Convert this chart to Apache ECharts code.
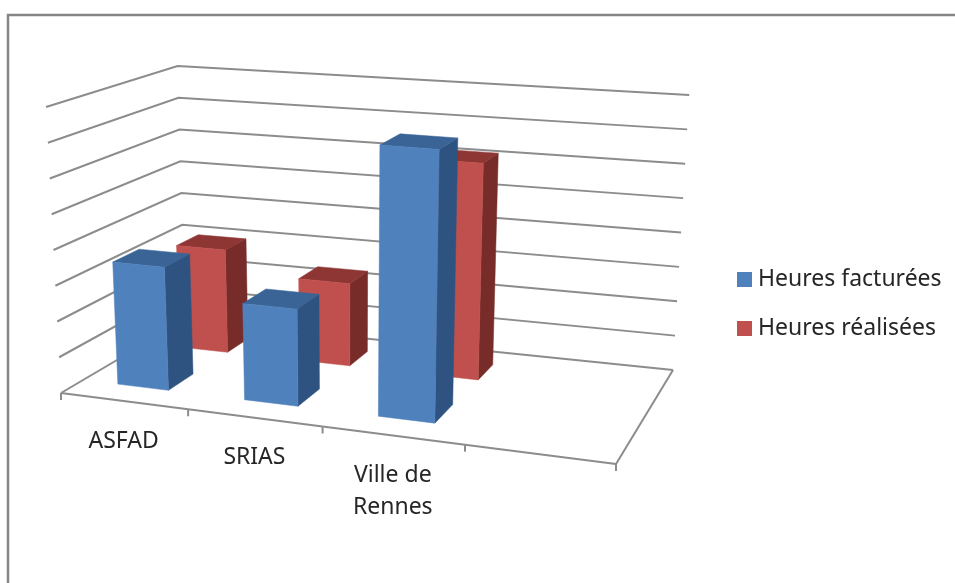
<!DOCTYPE html>
<html><head><meta charset="utf-8">
<style>html,body{margin:0;padding:0;background:#fff}#c{width:955px;height:583px}</style>
<script src="https://cdn.jsdelivr.net/npm/echarts@6/dist/echarts.min.js"></script>
</head><body><div id="c"></div>
<script>
const categories = ['ASFAD', 'SRIAS', 'Ville de\nRennes'];
const seriesNames = ['Heures facturées', 'Heures réalisées'];
const heuresFacturees = [3.46, 2.67, 7.36];
const heuresRealisees = [3.05, 2.4, 6.2];
const gridTicks = [0, 1, 2, 3, 4, 5, 6, 7, 8];
const catTicks = [0, 1, 2, 3, 4];

const W = 955, H = 583;
const FONT = '"Noto Sans", sans-serif';
// perspective box: floor corners FL, FR, BR, BL; heights at full scale; vertical vanishing point
const floorQ = [[61,393],[616,464],[673,370],[185,320]];
const VP = [348,5883], H0 = 286, HG = -0.086, HH = 0.126, WARP = 0.038;
function homography(q){
  const [p0,p1,p2,p3]=q;
  const dx1=p1[0]-p2[0],dx2=p3[0]-p2[0],sx=p0[0]-p1[0]+p2[0]-p3[0];
  const dy1=p1[1]-p2[1],dy2=p3[1]-p2[1],sy=p0[1]-p1[1]+p2[1]-p3[1];
  const den=dx1*dy2-dx2*dy1;
  const g=(sx*dy2-dx2*sy)/den,h=(dx1*sy-sx*dy1)/den;
  const a=p1[0]-p0[0]+g*p1[0],b=p3[0]-p0[0]+h*p3[0],d=p1[1]-p0[1]+g*p1[1],e=p3[1]-p0[1]+h*p3[1];
  return (u,v)=>{const k=g*u+h*v+1;return [(a*u+b*v+p0[0])/k,(d*u+e*v+p0[1])/k];};
}
const hF=homography(floorQ);
// x axis: 0..4 categories; y axis: 0..8 value; the grid fills the canvas, so the
// scale position is turned into box coordinates and then projected.
function project(api,x,depth,val){
  const c=api.coord([x,val]);
  let u=c[0]/W; const t=1-c[1]/H;
  u=u+WARP*u*(1-u);
  const f=hF(u,depth);
  const hgt=H0/(1+HG*u+HH*depth)*t;
  return [f[0]+(f[0]-VP[0])/(VP[1]-f[1])*hgt, f[1]-hgt];
}
const LINE={stroke:'#8c8c8c',lineWidth:2,fill:null};
function renderGrid(p,api){
  const w=api.value(0);
  return {type:'polyline',silent:true,shape:{points:[project(api,0,0,w),project(api,0,1,w),project(api,4,1,w)]},style:LINE};
}
function renderFloor(p,api){
  const i=api.value(0);
  const a=project(api,i,0,0);
  const kids=[{type:'line',shape:{x1:a[0],y1:a[1],x2:a[0],y2:a[1]+7},style:LINE}];
  if(i<4){const b=project(api,i+1,0,0);kids.push({type:'line',shape:{x1:a[0],y1:a[1],x2:b[0],y2:b[1]},style:LINE});}
  else{const b=project(api,4,1,0);kids.push({type:'line',shape:{x1:a[0],y1:a[1],x2:b[0],y2:b[1]},style:LINE});}
  return {type:'group',silent:true,children:kids};
}
function renderLabel(p,api){
  const i=api.value(0);
  const a=project(api,i+0.5,0,0);
  return {type:'text',silent:true,style:{text:categories[i],x:a[0],y:a[1]+24,align:'center',verticalAlign:'top',font:'23px '+FONT,fill:'#262626',lineHeight:32}};
}
const HALF=0.203;
function barRenderer(v0,v1,center,cols){
  return function(p,api){
    const i=api.value(0), val=api.value(1);
    const u0=i+center-HALF, u1=i+center+HALF;
    const P=(u,d,w)=>project(api,u,d,w);
    const poly=(pts,c)=>({type:'polygon',shape:{points:pts},style:{fill:c,stroke:c,lineWidth:0.5}});
    return {type:'group',children:[
      poly([P(u1,v0,0),P(u1,v1,0),P(u1,v1,val),P(u1,v0,val)],cols[1]),
      poly([P(u0,v0,val),P(u1,v0,val),P(u1,v1,val),P(u0,v1,val)],cols[2]),
      poly([P(u0,v0,0),P(u1,v0,0),P(u1,v0,val),P(u0,v0,val)],cols[0])
    ]};
  };
}
const blue=['#4F81BD','#2F5380','#3A6496'], red=['#C0504D','#772C2A','#8D3634'];
const chart=echarts.init(document.getElementById('c'),null,{renderer:'canvas'});
const toRows=a=>a.map((v,i)=>[i,v]);
chart.setOption({
  animation:false,
  backgroundColor:'#fff',
  grid:{left:0,right:0,top:0,bottom:0},
  xAxis:{type:'value',min:0,max:4,interval:1,show:false},
  yAxis:{type:'value',min:0,max:8,interval:1,show:false},
  legend:{data:seriesNames,orient:'vertical',left:732,top:263,itemWidth:15,itemHeight:15,itemGap:26,icon:'rect',
    selectedMode:false,textStyle:{fontFamily:'"Noto Sans", sans-serif',fontSize:23,color:'#262626',padding:[0,0,0,1]}},
  graphic:[{type:'rect',silent:true,shape:{x:8,y:15,width:1000,height:700},style:{fill:null,stroke:'#868686',lineWidth:2.5}}],
  series:[
    {type:'custom',name:'grid',data:gridTicks.map(v=>[v]),renderItem:renderGrid,encode:{x:-1,y:0},silent:true,z:1,clip:false},
    {type:'custom',name:'floor',data:catTicks.map(v=>[v]),renderItem:renderFloor,encode:{x:0,y:-1},silent:true,z:1,clip:false},
    {type:'custom',name:'labels',data:categories.map((c,i)=>[i]),renderItem:renderLabel,encode:{x:0,y:-1},silent:true,z:1,clip:false},
    {type:'custom',name:seriesNames[1],data:toRows(heuresRealisees),renderItem:barRenderer(0.65,0.84,0.497,red),encode:{x:0,y:1},itemStyle:{color:'#C0504D'},z:2,clip:false},
    {type:'custom',name:seriesNames[0],data:toRows(heuresFacturees),renderItem:barRenderer(0.16,0.36,0.485,blue),encode:{x:0,y:1},itemStyle:{color:'#4F81BD'},z:3,clip:false}
  ]
});
</script></body></html>
